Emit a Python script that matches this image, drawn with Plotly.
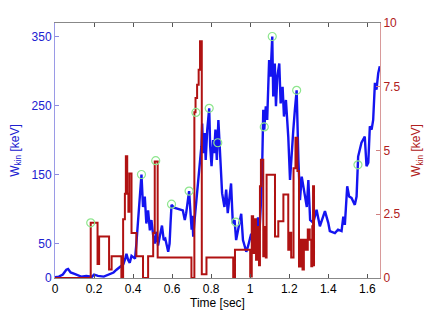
import plotly.graph_objects as go

# Kinetic energy trace (left axis, keV)
t_kin = [0.0, 0.02, 0.04, 0.058, 0.067, 0.08, 0.1, 0.12, 0.134, 0.16, 0.19, 0.2, 0.22, 0.25,
         0.28, 0.3, 0.315, 0.33, 0.35, 0.36, 0.366, 0.375, 0.383, 0.392, 0.4, 0.41, 0.417,
         0.425, 0.432, 0.443, 0.451, 0.46, 0.468, 0.477, 0.486, 0.494, 0.503, 0.511, 0.52,
         0.528, 0.536, 0.548, 0.557, 0.565, 0.58, 0.587, 0.592, 0.597, 0.61, 0.625, 0.64,
         0.655, 0.665, 0.672, 0.68, 0.687, 0.692, 0.7, 0.704, 0.708, 0.715, 0.725, 0.733,
         0.742, 0.75, 0.754, 0.759, 0.767, 0.772, 0.78, 0.79, 0.795, 0.802, 0.81, 0.815,
         0.822, 0.829, 0.837, 0.843, 0.851, 0.856, 0.868, 0.877, 0.885, 0.894, 0.902, 0.911,
         0.92, 0.928, 0.937, 0.954, 0.963, 0.98, 0.988, 1.005, 1.014, 1.022, 1.03, 1.04,
         1.048, 1.057, 1.062, 1.067, 1.072, 1.08, 1.087, 1.097, 1.104, 1.113, 1.118, 1.126,
         1.132, 1.139, 1.149, 1.156, 1.166, 1.173, 1.183, 1.195, 1.204, 1.212, 1.221, 1.229,
         1.238, 1.247, 1.255, 1.264, 1.276, 1.29, 1.298, 1.307, 1.323, 1.34, 1.357, 1.383,
         1.4, 1.408, 1.434, 1.45, 1.468, 1.477, 1.485, 1.49, 1.497, 1.507, 1.519, 1.536,
         1.545, 1.553, 1.562, 1.57, 1.587, 1.596, 1.605, 1.613, 1.622, 1.63, 1.639, 1.647,
         1.656, 1.664]
w_kin = [1, 2, 5, 12, 13, 8, 6, 4, 2, 3, 2, 5, 3, 2,
         6, 8, 12, 15, 20, 28, 35, 26, 22, 32, 30, 28, 50,
         79, 100, 150, 103, 118, 79, 98, 69, 84, 62, 50, 67,
         47, 59, 76, 55, 57, 38, 50, 80, 106, 102, 101, 100,
         98, 84, 94, 111, 126, 104, 70, 90, 60, 84, 113, 137,
         162, 191, 224, 181, 210, 171, 215, 246, 191, 162, 200, 181,
         215, 171, 229, 191, 162, 123, 103, 128, 94, 113, 137, 79,
         84, 55, 69, 93, 55, 38, 45, 64, 50, 74, 59, 88,
         69, 120, 171, 244, 215, 249, 229, 316, 292, 350, 263, 311,
         249, 292, 311, 253, 277, 234, 258, 205, 142, 181, 215, 244,
         272, 171, 113, 147, 128, 103, 142, 84, 80, 99, 75, 97,
         80, 68, 65, 70, 68, 89, 77, 108, 133, 118, 116, 106,
         118, 176, 186, 196, 205, 162, 167, 220, 215, 229, 283, 273,
         297, 307]

# Second quantity (right axis, keV), stepwise
t_step = [0.0, 0.183, 0.218, 0.226, 0.277, 0.29, 0.34, 0.349, 0.358, 0.363, 0.37, 0.376,
          0.381, 0.392, 0.417, 0.451, 0.477, 0.503, 0.511, 0.526, 0.699, 0.714, 0.72,
          0.728, 0.736, 0.743, 0.752, 0.776, 0.913, 0.922, 1.0, 1.008, 1.015, 1.022, 1.03,
          1.038, 1.045, 1.05, 1.055, 1.067, 1.073, 1.08, 1.084, 1.127, 1.144, 1.17, 1.195,
          1.203, 1.21, 1.222, 1.232, 1.242, 1.25, 1.26, 1.268, 1.275, 1.285, 1.295, 1.305,
          1.313, 1.318, 1.322, 1.327]
w_step = [0, 2.17, 0.55, 1.63, 0.33, 0.85, 0, 2.3, 3.3, 4.77, 3.3, 2.6,
          4.1, 1.76, 0.85, 0, 0.85, 1.76, 4.57, 0.8, 0, 6.5, 7.06,
          7.58, 8.17, 9.28, 0.15, 0.8, 0, 1.11, 0.06, 2.42, 0.98, 2.3, 0.72,
          2.0, 0.5, 3.6, 4.64, 0.85, 2.0, 0.8, 4.05, 1.63, 2.23, 3.27, 1.11,
          1.77, 0.8, 4.3, 5.5, 4.2, 0.45, 1.5, 0.33, 1.5, 1.11, 1.9, 1.5,
          0.46, 2.03, 3.6, 0.46]

# Marked peaks (left-axis units)
t_peak = [0.183, 0.443, 0.516, 0.597, 0.687, 0.722, 0.79, 0.834, 0.926, 1.072, 1.113, 1.238, 1.552]
w_peak = [80, 150, 170, 107, 126, 240, 246, 196, 81, 219, 350, 272, 164]

left_ticks = [0, 50, 150, 250, 350]
right_ticks = [0, 2.5, 5, 7.5, 10]
right_labels = ["0", "2.5", "5", "7.5", "10"]
x_ticks = [0, 0.2, 0.4, 0.6, 0.8, 1.0, 1.2, 1.4, 1.6]
x_labels = ["0", "0.2", "0.4", "0.6", "0.8", "1", "1.2", "1.4", "1.6"]

BLUE = "#1414f0"
RED = "#b01212"
FONT = "Liberation Sans, Arial, sans-serif"

fig = go.Figure()
fig.add_trace(go.Scatter(x=t_kin, y=w_kin, mode="lines", yaxis="y",
                         line=dict(color=BLUE, width=2.4), showlegend=False))
fig.add_trace(go.Scatter(x=t_step, y=w_step, mode="lines", yaxis="y2",
                         line=dict(color=RED, width=2, shape="hv"), showlegend=False))
fig.add_trace(go.Scatter(x=t_peak, y=w_peak, mode="markers", yaxis="y3",
                         marker=dict(symbol="circle-open", size=8, color="#8ee68e",
                                     line=dict(width=1.2)),
                         showlegend=False))

y_range = [0, 369.6]

fig.update_layout(
    width=426, height=327,
    margin=dict(l=55, r=46, t=23, b=49),
    paper_bgcolor="white", plot_bgcolor="white",
    font=dict(family=FONT, size=12, color="black"),
    xaxis=dict(range=[0, 1.665], tickvals=x_ticks, ticktext=x_labels, automargin=False,
               ticks="inside", ticklen=4, tickcolor="#555555",
               showline=True, linecolor="#888888", linewidth=1, mirror="ticks",
               showgrid=False, zeroline=False,
               tickfont=dict(size=12, color="black"),
               title=dict(text="Time [sec]", font=dict(size=12, color="black"), standoff=3)),
    yaxis=dict(range=y_range, tickvals=left_ticks, automargin=False,
               ticks="inside", ticklen=4, tickcolor="#8a8ae0",
               showline=True, linecolor="#9a9ae6", linewidth=1,
               showgrid=False, zeroline=False,
               tickfont=dict(size=12, color="#2020d0"),
               title=dict(text="W<sub>kin</sub> [keV]", font=dict(size=12, color="#2020d0"),
                          standoff=9)),
    yaxis2=dict(range=[0, 10], tickvals=right_ticks, ticktext=right_labels, automargin=False,
                overlaying="y", side="right",
                ticks="inside", ticklen=4, tickcolor="#d08080",
                showline=True, linecolor="#d89a9a", linewidth=1,
                showgrid=False, zeroline=False,
                tickfont=dict(size=12, color="#b02020"),
                title=dict(text="W<sub>kin</sub> [keV]", font=dict(size=12, color="#b02020"),
                           standoff=12)),
    yaxis3=dict(range=y_range, overlaying="y", visible=False),
)

fig.write_html("out.html")
